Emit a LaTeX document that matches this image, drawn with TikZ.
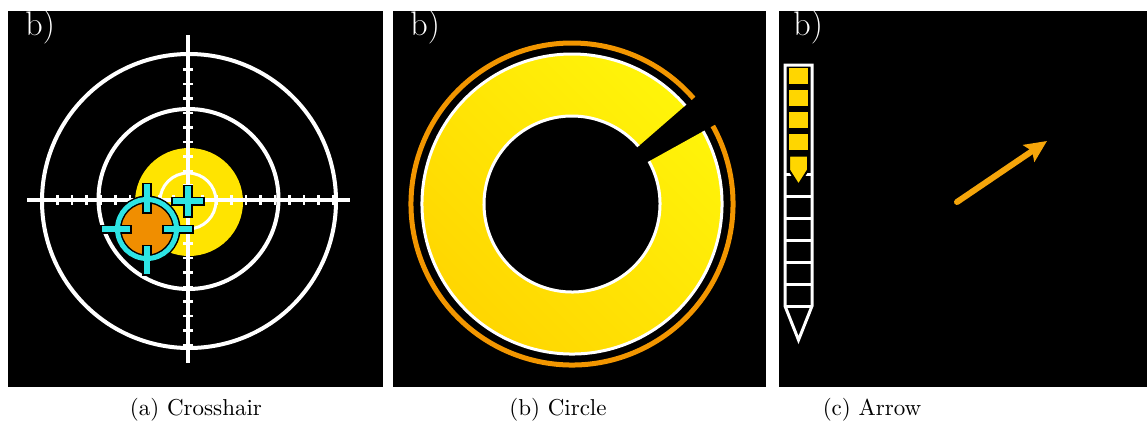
\documentclass[tikz,border=0pt]{standalone}
\usetikzlibrary{arrows.meta,calc}

\definecolor{tgtyellow}{RGB}{255,228,0}
\definecolor{ringgold}{RGB}{255,212,0}
\definecolor{ringlight}{RGB}{255,246,10}
\definecolor{accorange}{RGB}{240,142,0}
\definecolor{ringorange}{RGB}{242,150,0}
\definecolor{arroworange}{RGB}{245,165,10}
\definecolor{reticle}{RGB}{45,228,228}
\definecolor{cellyellow}{RGB}{255,214,0}

% one unit = one pixel of the final image (0.4695pt), y grows downwards
\tikzset{
  panel/.style={fill=black},
  scopeline/.style={draw=white, line width=1.88pt},
  thinwhite/.style={draw=white, line width=1.41pt},
  tickmark/.style={draw=white, line width=1.17pt},
  cyanback/.style={draw=black, line width=4.23pt, line cap=rect},
  cyanfront/.style={draw=reticle, line width=2.82pt, line cap=rect},
  cornerlabel/.style={text=white, inner sep=0pt, anchor=base west,
    font=\fontsize{16}{18}\selectfont},
  subcaption/.style={inner sep=0pt, anchor=base, font=\fontsize{10.8}{13}\selectfont},
}

\begin{document}
\begin{tikzpicture}[x=0.4695pt, y=-0.4695pt]
\useasboundingbox (0,0) rectangle (1147,426);

% ---------- three black panels ----------
\fill[panel] (8,11) rectangle (383,387);
\fill[panel] (393,11) rectangle (766,387);
\fill[panel] (779,11) rectangle (1147,387);

% ---------- (a) crosshair ----------
\fill[tgtyellow] (189,202) circle[radius=54];
\draw[scopeline] (189,201) circle[radius=147];
\draw[scopeline] (188.5,199) circle[radius=90];
\draw[thinwhite] (188,201) circle[radius=28];
\draw[scopeline] (188,35) -- (188,363);
\draw[scopeline] (27,200) -- (350,200);
\foreach \k in {-10,...,-1,1,2,...,10} {
  \draw[tickmark] ({188+\k*14.5},195) -- ({188+\k*14.5},205);
  \draw[tickmark] (183,{200+\k*14.5}) -- (193,{200+\k*14.5});
}
% small plus at the centre of the target
\coordinate (aim) at (188,201);
\draw[cyanback] ($(aim)+(-12,0)$) -- ($(aim)+(12,0)$);
\draw[cyanback] ($(aim)+(0,-12)$) -- ($(aim)+(0,12)$);
\draw[cyanfront] ($(aim)+(-12,0)$) -- ($(aim)+(12,0)$);
\draw[cyanfront] ($(aim)+(0,-12)$) -- ($(aim)+(0,12)$);
% reticle with orange disk
\coordinate (ret) at (147,229);
\fill[black] (ret) circle[radius=33];
\fill[accorange] (ret) circle[radius=27];
\foreach \a in {0,90,180,270} {
  \draw[cyanback] ($(ret)+(\a:20)$) -- ($(ret)+(\a:42)$);
}
\draw[draw=black, line width=3.76pt] (ret) circle[radius=29.5];
\draw[draw=reticle, line width=2.35pt] (ret) circle[radius=29.5];
\foreach \a in {0,90,180,270} {
  \draw[cyanfront] ($(ret)+(\a:20)$) -- ($(ret)+(\a:42)$);
}

% ---------- (b) circle ----------
\coordinate (C) at (572,204);
\draw[draw=ringorange, line width=2.35pt]
  ($(C)+(-29:161)$) arc[start angle=-29, end angle=319, radius=161];
\shade[top color=ringlight, bottom color=ringgold, shading angle=-45]
  ($(C)+(-29:150)$) arc[start angle=-29, end angle=319, radius=150]
  -- ($(C)+(319:88)$) arc[start angle=319, end angle=-29, radius=88] -- cycle;
\draw[thinwhite]
  ($(C)+(-29:150)$) arc[start angle=-29, end angle=319, radius=150];
\draw[thinwhite]
  ($(C)+(-29:88)$) arc[start angle=-29, end angle=319, radius=88];

% ---------- (c) arrow ----------
\foreach \k in {0,...,3} {
  \fill[cellyellow] (789,{65+\k*21.9+3}) rectangle (808,{65+(\k+1)*21.9-2.5});
}
\foreach \k in {5,...,10} {
  \draw[thinwhite] (785,{65+\k*21.9}) -- (812,{65+\k*21.9});
}
\draw[thinwhite, line join=miter]
  (785,65) -- (812,65) -- (812,306) -- (798.5,340) -- (785,306) -- cycle;
\draw[thinwhite] (785,306) -- (812,306);
\filldraw[fill=cellyellow, draw=black, line width=0.94pt]
  (789,155.6) -- (808,155.6) -- (808,170) -- (798.5,185) -- (789,170) -- cycle;

\coordinate (tail) at (957,202);
\coordinate (head) at (1047,141);
\draw[draw=arroworange, line width=2.82pt, line cap=round,
  -{Stealth[length=10.3pt, width=9.4pt, inset=1.9pt]}] (tail) -- (head);

% ---------- corner labels ----------
\node[cornerlabel] (la) at (25,35) {b)};
\node[cornerlabel] (lb) at (410,35) {b)};
\node[cornerlabel] (lc) at (793,35) {b)};

% ---------- captions ----------
\node[subcaption] (capa) at (196,415) {(a) Crosshair};
\node[subcaption] (capb) at (558,415) {(b) Circle};
\node[subcaption] (capc) at (872,415) {(c) Arrow};
\end{tikzpicture}
\end{document}
